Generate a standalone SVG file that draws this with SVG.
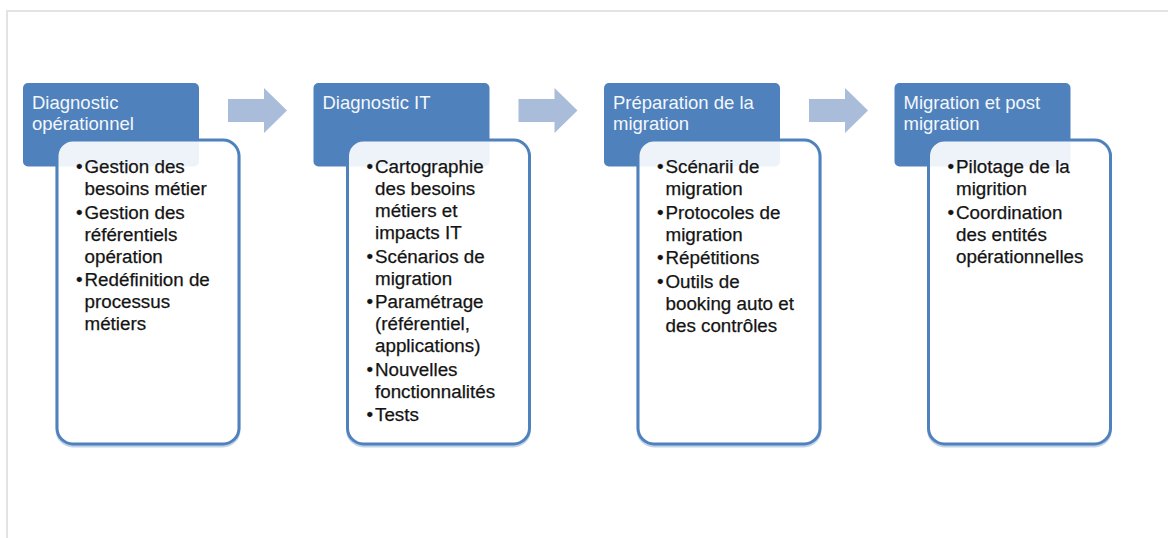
<svg xmlns="http://www.w3.org/2000/svg" width="1168" height="538" viewBox="0 0 1168 538">
<defs>
<style>
.hdr{fill:#4F81BD;}
.box{fill:#FFFFFF;fill-opacity:0.9;stroke:#4F81BD;stroke-width:3;}
.shadow{fill:none;stroke:#4F81BD;stroke-opacity:0.35;stroke-width:3;}
.ht{font-family:"Liberation Sans",Arial,sans-serif;font-size:18.5px;fill:#F4F7FB;}
.bt{font-family:"Liberation Sans",Arial,sans-serif;font-size:18.8px;fill:#141414;stroke:#141414;stroke-width:0.25;}
.arr{fill:#A9BCD9;}
.frame{fill:none;stroke:#E3E3E3;stroke-width:2;}
</style>
</defs>
<rect width="1168" height="538" fill="#FFFFFF"/>
<polyline class="frame" points="7,538 7,11 1168,11"/>

<g id="connectors">
<polygon class="arr" points="228,99 264,99 264,88 287,110.5 264,133 264,122 228,122"/>
<polygon class="arr" points="518.5,99 554.5,99 554.5,88 577.5,110.5 554.5,133 554.5,122 518.5,122"/>
<polygon class="arr" points="809,99 845,99 845,88 868,110.5 845,133 845,122 809,122"/>
</g>

<g id="node1">
<rect class="hdr" x="23" y="83" width="176" height="83.5" rx="5"/>
<text class="ht"><tspan x="32" y="109">Diagnostic</tspan><tspan x="32" y="129.5">opérationnel</tspan></text>
<rect class="shadow" x="57" y="142" width="182" height="304" rx="16"/>
<rect class="box" x="57" y="140" width="182" height="304" rx="16"/>
<text class="bt">
<tspan x="76" y="173">•</tspan><tspan x="84.5" y="173">Gestion des</tspan>
<tspan x="84.5" y="195">besoins métier</tspan>
<tspan x="76" y="218.5">•</tspan><tspan x="84.5" y="218.5">Gestion des</tspan>
<tspan x="84.5" y="240.5">référentiels</tspan>
<tspan x="84.5" y="262.5">opération</tspan>
<tspan x="76" y="286">•</tspan><tspan x="84.5" y="286">Redéfinition de</tspan>
<tspan x="84.5" y="308">processus</tspan>
<tspan x="84.5" y="330">métiers</tspan>
</text>
</g>

<g id="node2">
<rect class="hdr" x="313.5" y="83" width="176" height="83.5" rx="5"/>
<text class="ht"><tspan x="322.5" y="109">Diagnostic IT</tspan></text>
<rect class="shadow" x="347.5" y="142" width="182" height="304" rx="16"/>
<rect class="box" x="347.5" y="140" width="182" height="304" rx="16"/>
<text class="bt">
<tspan x="366.5" y="173">•</tspan><tspan x="375" y="173">Cartographie</tspan>
<tspan x="375" y="195">des besoins</tspan>
<tspan x="375" y="217">métiers et</tspan>
<tspan x="375" y="239">impacts IT</tspan>
<tspan x="366.5" y="262.5">•</tspan><tspan x="375" y="262.5">Scénarios de</tspan>
<tspan x="375" y="284.5">migration</tspan>
<tspan x="366.5" y="308">•</tspan><tspan x="375" y="308">Paramétrage</tspan>
<tspan x="375" y="330">(référentiel,</tspan>
<tspan x="375" y="352">applications)</tspan>
<tspan x="366.5" y="375.5">•</tspan><tspan x="375" y="375.5">Nouvelles</tspan>
<tspan x="375" y="397.5">fonctionnalités</tspan>
<tspan x="366.5" y="421">•</tspan><tspan x="375" y="421">Tests</tspan>
</text>
</g>

<g id="node3">
<rect class="hdr" x="604" y="83" width="176" height="83.5" rx="5"/>
<text class="ht"><tspan x="613" y="109">Préparation de la</tspan><tspan x="613" y="129.5">migration</tspan></text>
<rect class="shadow" x="638" y="142" width="182" height="304" rx="16"/>
<rect class="box" x="638" y="140" width="182" height="304" rx="16"/>
<text class="bt">
<tspan x="657" y="173">•</tspan><tspan x="665.5" y="173">Scénarii de</tspan>
<tspan x="665.5" y="195">migration</tspan>
<tspan x="657" y="218.5">•</tspan><tspan x="665.5" y="218.5">Protocoles de</tspan>
<tspan x="665.5" y="240.5">migration</tspan>
<tspan x="657" y="264">•</tspan><tspan x="665.5" y="264">Répétitions</tspan>
<tspan x="657" y="287.5">•</tspan><tspan x="665.5" y="287.5">Outils de</tspan>
<tspan x="665.5" y="309.5">booking auto et</tspan>
<tspan x="665.5" y="331.5">des contrôles</tspan>
</text>
</g>

<g id="node4">
<rect class="hdr" x="894.5" y="83" width="176" height="83.5" rx="5"/>
<text class="ht"><tspan x="903.5" y="109">Migration et post</tspan><tspan x="903.5" y="129.5">migration</tspan></text>
<rect class="shadow" x="928.5" y="142" width="182" height="304" rx="16"/>
<rect class="box" x="928.5" y="140" width="182" height="304" rx="16"/>
<text class="bt">
<tspan x="947.5" y="173">•</tspan><tspan x="956" y="173">Pilotage de la</tspan>
<tspan x="956" y="195">migrition</tspan>
<tspan x="947.5" y="218.5">•</tspan><tspan x="956" y="218.5">Coordination</tspan>
<tspan x="956" y="240.5">des entités</tspan>
<tspan x="956" y="262.5">opérationnelles</tspan>
</text>
</g>
</svg>
